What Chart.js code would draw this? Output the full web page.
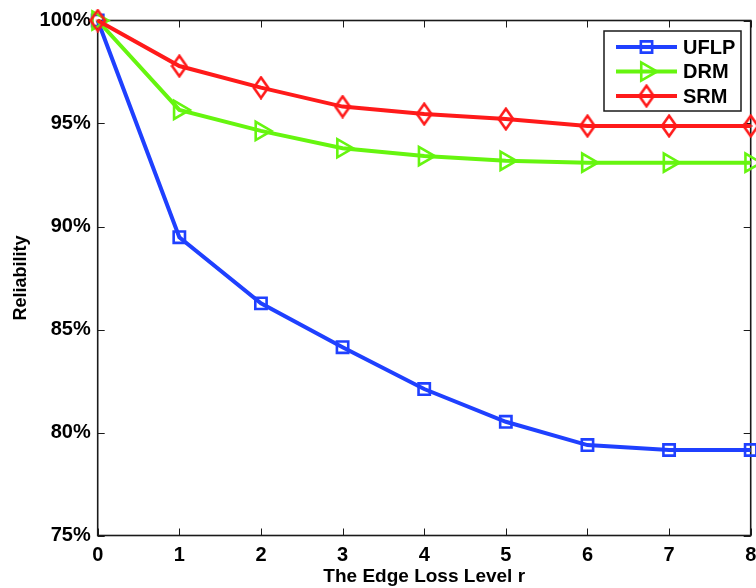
<!DOCTYPE html>
<html><head><meta charset="utf-8">
<script src="https://cdn.jsdelivr.net/npm/chart.js@4/dist/chart.umd.min.js"></script>
<style>html,body{margin:0;padding:0;background:#fff;}#wrap{width:756px;height:588px;position:relative;}canvas{display:block;}</style>
</head><body><div id="wrap"><canvas id="c" width="756" height="588"></canvas></div>
<script>
const levels = [0, 1, 2, 3, 4, 5, 6, 7, 8];
const uflp = [100, 89.48, 86.27, 84.14, 82.11, 80.52, 79.39, 79.15, 79.15];
const drm  = [100, 95.66, 94.64, 93.80, 93.42, 93.19, 93.10, 93.10, 93.10];
const srm  = [100, 97.79, 96.74, 95.82, 95.46, 95.22, 94.88, 94.88, 94.88];
const seriesNames = ['UFLP', 'DRM', 'SRM'];
const yTickValues = [75, 80, 85, 90, 95, 100];
const xTitle = 'The Edge Loss Level r';
const yTitle = 'Reliability';

const FAMILY = "'Liberation Sans', Arial, Helvetica, sans-serif";
Chart.defaults.font.family = FAMILY;
const BLUE = '#1f40ff', GREEN = '#66f50f', RED = '#ff1a1a';

function diamondCanvas(color) {
  const w = 18, h = 24;
  const c = document.createElement('canvas'); c.width = w; c.height = h;
  const g = c.getContext('2d'); g.strokeStyle = color; g.lineWidth = 2.6;
  g.beginPath(); g.moveTo(w / 2, 1.8); g.lineTo(w - 1.8, h / 2); g.lineTo(w / 2, h - 1.8); g.lineTo(1.8, h / 2); g.closePath(); g.stroke();
  g.lineWidth = 1.2; g.beginPath(); g.moveTo(w/2 - 2, h/2); g.lineTo(w/2 + 2, h/2); g.stroke();
  return c;
}
const diamond = diamondCanvas(RED);

function mk(name, vals, color, style, radius, rot, order) {
  return {
    label: name, data: levels.map((x, i) => ({ x: x, y: vals[i] })),
    borderColor: color, backgroundColor: color, borderWidth: 4, tension: 0, fill: false,
    pointStyle: style, pointRadius: radius, pointRotation: rot, pointBorderWidth: 2.6,
    pointBorderColor: color, pointBackgroundColor: 'rgba(0,0,0,0)', clip: false, order: order
  };
}

const framePlugin = {
  id: 'frame',
  beforeDatasetsDraw(chart) {
    const { ctx, chartArea: a, scales: { x, y } } = chart;
    ctx.save();
    ctx.strokeStyle = '#1a1a1a'; ctx.lineWidth = 1;
    const TL = 7;
    x.ticks.forEach(t => {
      const px = Math.round(x.getPixelForValue(t.value)) + 0.5;
      ctx.beginPath(); ctx.moveTo(px, a.bottom); ctx.lineTo(px, a.bottom - TL);
      ctx.moveTo(px, a.top); ctx.lineTo(px, a.top + TL); ctx.stroke();
    });
    y.ticks.forEach(t => {
      const py = Math.round(y.getPixelForValue(t.value)) + 0.5;
      ctx.beginPath(); ctx.moveTo(a.left, py); ctx.lineTo(a.left + TL, py);
      ctx.moveTo(a.right, py); ctx.lineTo(a.right - TL, py); ctx.stroke();
    });
    ctx.lineWidth = 1.6;
    ctx.strokeRect(a.left, a.top, a.right - a.left, a.bottom - a.top);
    ctx.restore();
  }
};

const legendPlugin = {
  id: 'mlegend',
  afterDatasetsDraw(chart) {
    const ctx = chart.ctx;
    const bx = 604, by = 31, bw = 137, bh = 80;
    ctx.save();
    ctx.fillStyle = '#fff'; ctx.fillRect(bx, by, bw, bh);
    ctx.strokeStyle = '#1a1a1a'; ctx.lineWidth = 1.5; ctx.strokeRect(bx, by, bw, bh);
    chart.data.datasets.forEach((ds, i) => {
      const yy = 47 + i * 24.5;
      ctx.strokeStyle = ds.borderColor; ctx.lineWidth = 4;
      ctx.beginPath(); ctx.moveTo(616, yy); ctx.lineTo(677, yy); ctx.stroke();
      ctx.lineWidth = ds.pointBorderWidth; ctx.fillStyle = 'rgba(0,0,0,0)';
      if (Chart.helpers && Chart.helpers.drawPoint) {
        Chart.helpers.drawPoint(ctx, { pointStyle: ds.pointStyle, radius: ds.pointRadius, rotation: ds.pointRotation, borderWidth: ds.pointBorderWidth }, 646.5, yy);
      }
      ctx.fillStyle = '#000'; ctx.font = 'bold 20px ' + FAMILY; ctx.textBaseline = 'middle'; ctx.textAlign = 'left';
      ctx.fillText(ds.label, 683, yy + 1);
    });
    ctx.restore();
  }
};

new Chart(document.getElementById('c'), {
  type: 'line',
  data: {
    datasets: [
      mk(seriesNames[0], uflp, BLUE, 'rect', 8, 0, 3),
      mk(seriesNames[1], drm, GREEN, 'triangle', 10.5, 90, 2),
      mk(seriesNames[2], srm, RED, diamond, 9, 0, 1)
    ]
  },
  options: {
    responsive: false, animation: false, devicePixelRatio: 1,
    layout: { autoPadding: false, padding: { top: 20.5, right: 5.3, left: 0, bottom: 0 } },
    plugins: { legend: { display: false }, tooltip: { enabled: false } },
    scales: {
      x: {
        type: 'linear', min: 0, max: 8, position: 'bottom',
        afterBuildTicks: s => { s.ticks = levels.map(v => ({ value: v })); },
        ticks: { autoSkip: false, maxRotation: 0, minRotation: 0, padding: 8, color: '#000', font: { size: 20, weight: 'bold' }, callback: v => String(v) },
        grid: { display: false, drawTicks: false }, border: { display: false },
        title: { display: true, text: xTitle, color: '#000', font: { size: 19, weight: 'bold', lineHeight: 1.1 }, padding: { top: 0, bottom: 0.5 } },
        afterFit: s => { s.height = 52.5; s.paddingLeft = 0; s.paddingRight = 0; }
      },
      y: {
        type: 'linear', min: 75, max: 100, position: 'left',
        afterBuildTicks: s => { s.ticks = yTickValues.map(v => ({ value: v })); },
        ticks: { autoSkip: false, padding: 7, color: '#000', font: { size: 20, weight: 'bold' }, callback: v => v + '%' },
        grid: { display: false, drawTicks: false }, border: { display: false },
        title: { display: true, text: yTitle, color: '#000', font: { size: 18, weight: 'bold', lineHeight: 1.2 }, padding: { top: 10, bottom: 0 } },
        afterFit: s => { s.width = 97.7; s.paddingTop = 0; s.paddingBottom = 0; }
      }
    }
  },
  plugins: [framePlugin, legendPlugin]
});
</script></body></html>
